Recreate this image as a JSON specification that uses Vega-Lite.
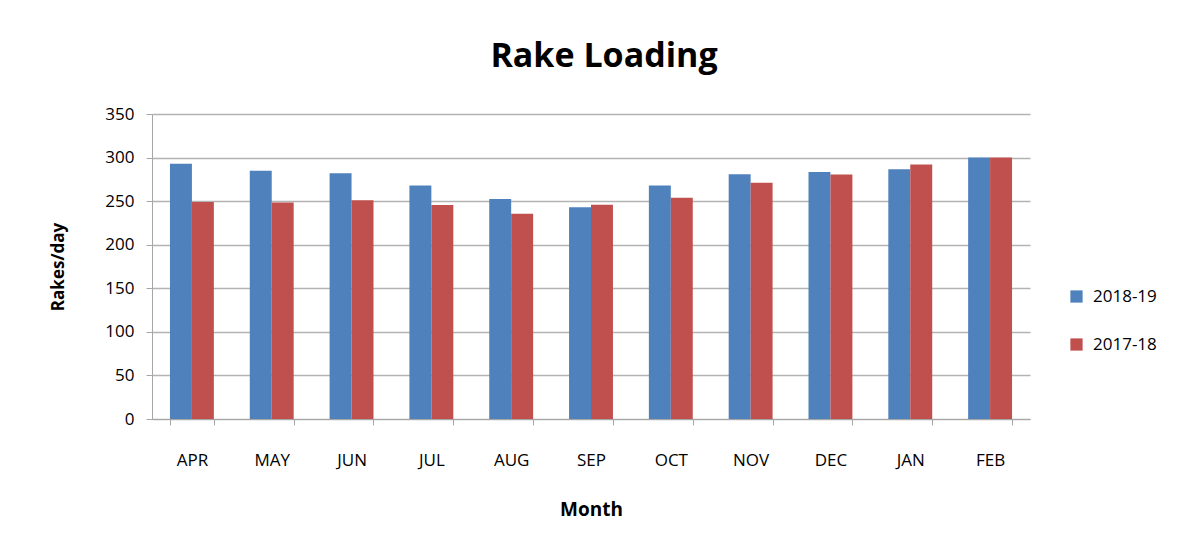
{
  "$schema": "https://vega.github.io/schema/vega-lite/v6.json",
  "width": 878,
  "height": 305,
  "autosize": {"type": "none"},
  "padding": {"left": 152, "top": 114, "right": 167, "bottom": 134},
  "background": "white",
  "config": {
    "font": "Open Sans",
    "view": {"stroke": null}
  },
  "title": {
    "text": "Rake Loading",
    "fontSize": 34,
    "fontWeight": "bold",
    "font": "Open Sans",
    "color": "#000000",
    "anchor": "middle",
    "dx": 13,
    "offset": 31
  },
  "data": {
    "values": [
      {"month": "APR", "year": "2018-19", "value": 293},
      {"month": "APR", "year": "2017-18", "value": 249},
      {"month": "MAY", "year": "2018-19", "value": 285},
      {"month": "MAY", "year": "2017-18", "value": 248.5},
      {"month": "JUN", "year": "2018-19", "value": 282},
      {"month": "JUN", "year": "2017-18", "value": 251},
      {"month": "JUL", "year": "2018-19", "value": 268},
      {"month": "JUL", "year": "2017-18", "value": 245.5},
      {"month": "AUG", "year": "2018-19", "value": 252.5},
      {"month": "AUG", "year": "2017-18", "value": 235.5},
      {"month": "SEP", "year": "2018-19", "value": 243},
      {"month": "SEP", "year": "2017-18", "value": 246},
      {"month": "OCT", "year": "2018-19", "value": 268},
      {"month": "OCT", "year": "2017-18", "value": 254},
      {"month": "NOV", "year": "2018-19", "value": 281},
      {"month": "NOV", "year": "2017-18", "value": 271},
      {"month": "DEC", "year": "2018-19", "value": 283.5},
      {"month": "DEC", "year": "2017-18", "value": 280.5},
      {"month": "JAN", "year": "2018-19", "value": 286.5},
      {"month": "JAN", "year": "2017-18", "value": 292},
      {"month": "FEB", "year": "2018-19", "value": 300},
      {"month": "FEB", "year": "2017-18", "value": 300}
    ]
  },
  "mark": {"type": "bar"},
  "encoding": {
    "x": {
      "field": "month",
      "type": "nominal",
      "sort": ["APR","MAY","JUN","JUL","AUG","SEP","OCT","NOV","DEC","JAN","FEB"],
      "scale": {"paddingInner": 0.45, "paddingOuter": 0.225},
      "axis": {
        "title": "Month",
        "titleFontSize": 19,
        "titleFontWeight": "bold",
        "titleColor": "#000000",
        "titlePadding": 32,
        "labelAngle": 0,
        "labelFontSize": 17,
        "labelColor": "#000000",
        "labelPadding": 27,
        "domainColor": "#a6a6a6",
        "tickColor": "#a6a6a6",
        "tickSize": 6,
        "tickBand": "extent",
        "grid": false
      }
    },
    "xOffset": {
      "field": "year",
      "type": "nominal",
      "sort": ["2018-19", "2017-18"],
      "scale": {"paddingInner": 0}
    },
    "y": {
      "field": "value",
      "type": "quantitative",
      "scale": {"domain": [0, 350], "nice": false},
      "axis": {
        "title": "Rakes/day",
        "titleFontSize": 17,
        "titleFontWeight": "bold",
        "titleColor": "#000000",
        "titlePadding": 37,
        "values": [0,50,100,150,200,250,300,350],
        "labelFontSize": 17,
        "labelColor": "#000000",
        "labelPadding": 12,
        "domainColor": "#a6a6a6",
        "tickColor": "#a6a6a6",
        "tickSize": 6,
        "gridColor": "#b3b3b3",
        "gridWidth": 1.5
      }
    },
    "color": {
      "field": "year",
      "type": "nominal",
      "sort": ["2018-19", "2017-18"],
      "scale": {"domain": ["2018-19", "2017-18"], "range": ["#4F81BD", "#C0504D"]},
      "legend": {
        "title": null,
        "orient": "none",
        "legendX": 916,
        "legendY": 174,
        "symbolType": "square",
        "symbolSize": 150,
        "symbolOpacity": 1,
        "labelFontSize": 17,
        "labelColor": "#000000",
        "rowPadding": 30,
        "labelOffset": 8
      }
    }
  }
}
